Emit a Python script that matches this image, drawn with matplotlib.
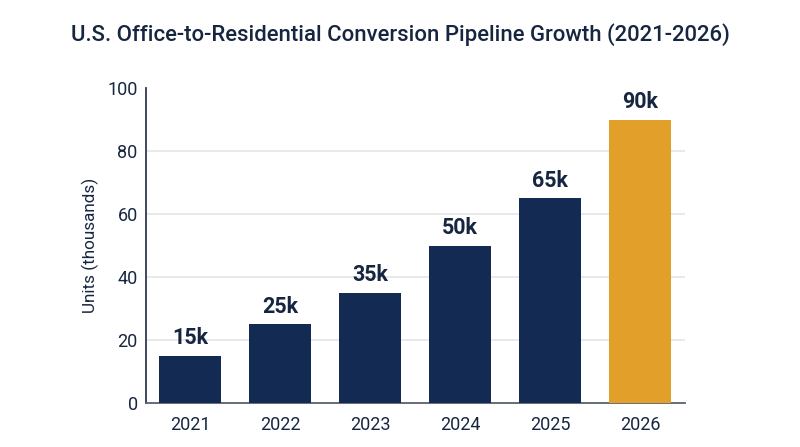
import matplotlib
matplotlib.use('Agg')
from matplotlib import pyplot as plt

plt.rcParams['font.family'] = ['Roboto', 'DejaVu Sans']

years = ['2021', '2022', '2023', '2024', '2025', '2026']
units = [15, 25, 35, 50, 65, 90]
labels = ['15k', '25k', '35k', '50k', '65k', '90k']

navy = '#132b52'
gold = '#e29f2a'
text_col = '#172640'
colors = [navy] * 5 + [gold]

fig = plt.figure(figsize=(8, 4.47), dpi=100)
ax = fig.add_axes([0.1825, 0.0984, 0.6738, 0.7046])

x = range(len(years))
ax.bar(x, units, width=0.68, color=colors, zorder=3)

for i, (v, lab) in enumerate(zip(units, labels)):
    ax.text(i, v + 2, lab, ha='center', va='bottom', fontsize=15.5,
            fontweight='bold', color=text_col, zorder=4)

ax.set_xlim(-0.49, 5.5)
ax.set_ylim(0, 100)
ax.set_xticks(list(x))
ax.set_xticklabels(years)
ax.set_yticks([0, 20, 40, 60, 80, 100])
ax.tick_params(axis='both', length=0, labelsize=13, colors=text_col)
ax.tick_params(axis='x', pad=9)
ax.tick_params(axis='y', pad=6)

for y in [20, 40, 60, 80]:
    ax.axhline(y, color='#e3e5e8', linewidth=1.2, zorder=1)

ax.spines['top'].set_visible(False)
ax.spines['right'].set_visible(False)
ax.spines['left'].set_color('#2f3a4c')
ax.spines['bottom'].set_color('#5a6270')
ax.spines['left'].set_linewidth(1.3)
ax.spines['bottom'].set_linewidth(1.3)

ax.set_ylabel('Units (thousands)', fontsize=12.3, color=text_col, labelpad=6)

fig.text(0.5, 0.922, 'U.S. Office-to-Residential Conversion Pipeline Growth (2021-2026)',
         ha='center', va='center', fontsize=15.9, fontweight='medium', color=text_col)

fig.savefig('out.png', dpi=100)
